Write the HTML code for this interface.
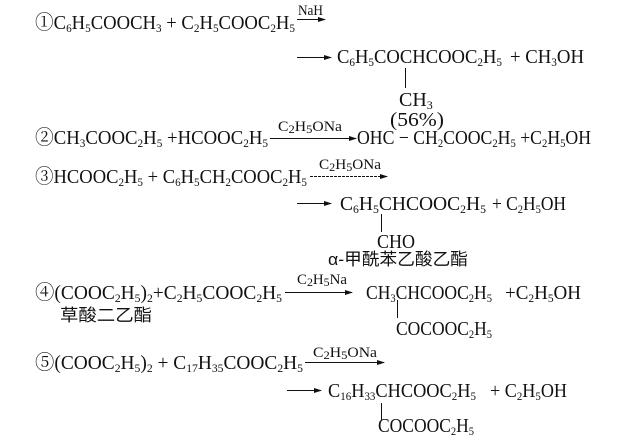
<!DOCTYPE html>
<html><head><meta charset="utf-8"><style>
html,body{margin:0;padding:0;background:#fff;}
svg{display:block;}
text{font-family:"Liberation Serif","Noto Serif CJK SC",serif;font-size:20px;fill:#111;}
.s{font-size:12px;}
.l{font-size:15px;}
.c{font-family:"Liberation Sans","Noto Sans CJK SC",sans-serif;font-size:17px;}
</style></head><body>
<svg width="637" height="437" viewBox="0 0 637 437" xmlns="http://www.w3.org/2000/svg">
<defs><marker id="a" markerWidth="8" markerHeight="6" refX="7" refY="3" orient="auto" markerUnits="userSpaceOnUse"><path d="M0,0.5 L8,3 L0,5.5 z" fill="#111"/></marker></defs>
<g stroke="#111" stroke-width="1" marker-end="url(#a)">
<line x1="297" y1="19.5" x2="325" y2="19.5"/>
<line x1="297" y1="57.5" x2="331" y2="57.5"/>
<line x1="270" y1="138.5" x2="356" y2="138.5"/>
<line x1="310" y1="176.5" x2="387" y2="176.5" stroke-dasharray="3,1"/>
<line x1="297" y1="203.5" x2="331" y2="203.5"/>
<line x1="285" y1="292.5" x2="352" y2="292.5"/>
<line x1="305" y1="362.5" x2="384" y2="362.5"/>
<line x1="287" y1="390.5" x2="321" y2="390.5"/>
</g>
<g stroke="#111" stroke-width="1">
<line x1="405.5" y1="68" x2="405.5" y2="88"/>
<line x1="381.5" y1="214" x2="381.5" y2="232"/>
<line x1="397.5" y1="300" x2="397.5" y2="318"/>
<line x1="381.5" y1="403" x2="381.5" y2="420"/>
</g>
<!-- 1 -->
<text x="35" y="29" textLength="260" lengthAdjust="spacingAndGlyphs">①C<tspan class="s" dy="3">6</tspan><tspan dy="-3">H</tspan><tspan class="s" dy="3">5</tspan><tspan dy="-3">COOCH</tspan><tspan class="s" dy="3">3</tspan><tspan dy="-3"> + C</tspan><tspan class="s" dy="3">2</tspan><tspan dy="-3">H</tspan><tspan class="s" dy="3">5</tspan><tspan dy="-3">COOC</tspan><tspan class="s" dy="3">2</tspan><tspan dy="-3">H</tspan><tspan class="s" dy="3">5</tspan></text>
<text class="l" x="298" y="15" textLength="25" lengthAdjust="spacingAndGlyphs">NaH</text>
<text x="337" y="63" textLength="165" lengthAdjust="spacingAndGlyphs">C<tspan class="s" dy="3">6</tspan><tspan dy="-3">H</tspan><tspan class="s" dy="3">5</tspan><tspan dy="-3">COCHCOOC</tspan><tspan class="s" dy="3">2</tspan><tspan dy="-3">H</tspan><tspan class="s" dy="3">5</tspan></text>
<text x="510" y="63" textLength="74" lengthAdjust="spacingAndGlyphs">+ CH<tspan class="s" dy="3">3</tspan><tspan dy="-3">OH</tspan></text>
<text x="399" y="106">CH<tspan class="s" dy="3">3</tspan></text>
<text x="390" y="126" textLength="54" lengthAdjust="spacingAndGlyphs">(56%)</text>
<!-- 2 -->
<text x="35" y="144" textLength="233" lengthAdjust="spacingAndGlyphs">②CH<tspan class="s" dy="3">3</tspan><tspan dy="-3">COOC</tspan><tspan class="s" dy="3">2</tspan><tspan dy="-3">H</tspan><tspan class="s" dy="3">5</tspan><tspan dy="-3"> +HCOOC</tspan><tspan class="s" dy="3">2</tspan><tspan dy="-3">H</tspan><tspan class="s" dy="3">5</tspan></text>
<text class="l" x="278" y="131" textLength="64" lengthAdjust="spacingAndGlyphs">C<tspan class="s" dy="2">2</tspan><tspan dy="-2">H</tspan><tspan class="s" dy="2">5</tspan><tspan dy="-2">ONa</tspan></text>
<text x="357" y="144" textLength="234" lengthAdjust="spacingAndGlyphs">OHC − CH<tspan class="s" dy="3">2</tspan><tspan dy="-3">COOC</tspan><tspan class="s" dy="3">2</tspan><tspan dy="-3">H</tspan><tspan class="s" dy="3">5</tspan><tspan dy="-3"> +C</tspan><tspan class="s" dy="3">2</tspan><tspan dy="-3">H</tspan><tspan class="s" dy="3">5</tspan><tspan dy="-3">OH</tspan></text>
<!-- 3 -->
<text x="35" y="183" textLength="272" lengthAdjust="spacingAndGlyphs">③HCOOC<tspan class="s" dy="3">2</tspan><tspan dy="-3">H</tspan><tspan class="s" dy="3">5</tspan><tspan dy="-3"> + C</tspan><tspan class="s" dy="3">6</tspan><tspan dy="-3">H</tspan><tspan class="s" dy="3">5</tspan><tspan dy="-3">CH</tspan><tspan class="s" dy="3">2</tspan><tspan dy="-3">COOC</tspan><tspan class="s" dy="3">2</tspan><tspan dy="-3">H</tspan><tspan class="s" dy="3">5</tspan></text>
<text class="l" x="319" y="169" textLength="62" lengthAdjust="spacingAndGlyphs">C<tspan class="s" dy="2">2</tspan><tspan dy="-2">H</tspan><tspan class="s" dy="2">5</tspan><tspan dy="-2">ONa</tspan></text>
<text x="340" y="210" textLength="146" lengthAdjust="spacingAndGlyphs">C<tspan class="s" dy="3">6</tspan><tspan dy="-3">H</tspan><tspan class="s" dy="3">5</tspan><tspan dy="-3">CHCOOC</tspan><tspan class="s" dy="3">2</tspan><tspan dy="-3">H</tspan><tspan class="s" dy="3">5</tspan></text>
<text x="492" y="210" textLength="74" lengthAdjust="spacingAndGlyphs">+ C<tspan class="s" dy="3">2</tspan><tspan dy="-3">H</tspan><tspan class="s" dy="3">5</tspan><tspan dy="-3">OH</tspan></text>
<text x="377" y="248" textLength="38" lengthAdjust="spacingAndGlyphs">CHO</text>
<text class="c" x="328" y="265" textLength="140" lengthAdjust="spacingAndGlyphs">α-甲酰苯乙酸乙酯</text>
<!-- 4 -->
<text x="35" y="299" textLength="247" lengthAdjust="spacingAndGlyphs">④(COOC<tspan class="s" dy="3">2</tspan><tspan dy="-3">H</tspan><tspan class="s" dy="3">5</tspan><tspan dy="-3">)</tspan><tspan class="s" dy="3">2</tspan><tspan dy="-3">+C</tspan><tspan class="s" dy="3">2</tspan><tspan dy="-3">H</tspan><tspan class="s" dy="3">5</tspan><tspan dy="-3">COOC</tspan><tspan class="s" dy="3">2</tspan><tspan dy="-3">H</tspan><tspan class="s" dy="3">5</tspan></text>
<text class="l" x="297" y="284" textLength="50" lengthAdjust="spacingAndGlyphs">C<tspan class="s" dy="2">2</tspan><tspan dy="-2">H</tspan><tspan class="s" dy="2">5</tspan><tspan dy="-2">Na</tspan></text>
<text x="366" y="299" textLength="126" lengthAdjust="spacingAndGlyphs">CH<tspan class="s" dy="3">3</tspan><tspan dy="-3">CHCOOC</tspan><tspan class="s" dy="3">2</tspan><tspan dy="-3">H</tspan><tspan class="s" dy="3">5</tspan></text>
<text x="505" y="299" textLength="76" lengthAdjust="spacingAndGlyphs">+C<tspan class="s" dy="3">2</tspan><tspan dy="-3">H</tspan><tspan class="s" dy="3">5</tspan><tspan dy="-3">OH</tspan></text>
<text class="c" x="60" y="321" textLength="92" lengthAdjust="spacingAndGlyphs">草酸二乙酯</text>
<text x="396" y="335" textLength="96" lengthAdjust="spacingAndGlyphs">COCOOC<tspan class="s" dy="3">2</tspan><tspan dy="-3">H</tspan><tspan class="s" dy="3">5</tspan></text>
<!-- 5 -->
<text x="35" y="369" textLength="268" lengthAdjust="spacingAndGlyphs">⑤(COOC<tspan class="s" dy="3">2</tspan><tspan dy="-3">H</tspan><tspan class="s" dy="3">5</tspan><tspan dy="-3">)</tspan><tspan class="s" dy="3">2</tspan><tspan dy="-3"> + C</tspan><tspan class="s" dy="3">17</tspan><tspan dy="-3">H</tspan><tspan class="s" dy="3">35</tspan><tspan dy="-3">COOC</tspan><tspan class="s" dy="3">2</tspan><tspan dy="-3">H</tspan><tspan class="s" dy="3">5</tspan></text>
<text class="l" x="313" y="357" textLength="64" lengthAdjust="spacingAndGlyphs">C<tspan class="s" dy="2">2</tspan><tspan dy="-2">H</tspan><tspan class="s" dy="2">5</tspan><tspan dy="-2">ONa</tspan></text>
<text x="328" y="397" textLength="148" lengthAdjust="spacingAndGlyphs">C<tspan class="s" dy="3">16</tspan><tspan dy="-3">H</tspan><tspan class="s" dy="3">33</tspan><tspan dy="-3">CHCOOC</tspan><tspan class="s" dy="3">2</tspan><tspan dy="-3">H</tspan><tspan class="s" dy="3">5</tspan></text>
<text x="490" y="397" textLength="77" lengthAdjust="spacingAndGlyphs">+ C<tspan class="s" dy="3">2</tspan><tspan dy="-3">H</tspan><tspan class="s" dy="3">5</tspan><tspan dy="-3">OH</tspan></text>
<text x="378" y="432" textLength="96" lengthAdjust="spacingAndGlyphs">COCOOC<tspan class="s" dy="3">2</tspan><tspan dy="-3">H</tspan><tspan class="s" dy="3">5</tspan></text>
</svg>
</body></html>
